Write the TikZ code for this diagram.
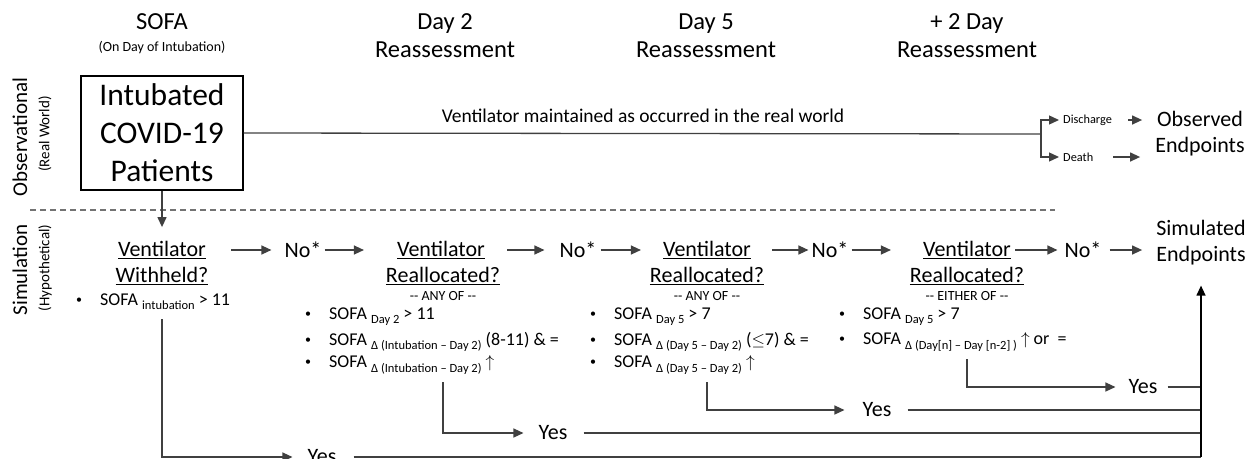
\documentclass[tikz,border=0pt]{standalone}
\usepackage{fontspec}
\setmainfont{Carlito}
\usetikzlibrary{arrows.meta}
\newcommand{\fs}[2]{\fontsize{#1}{#2}\selectfont}
\newcommand{\sofasub}[1]{\raisebox{-0.5ex}{\fs{12.5}{14}#1}}
\newcommand{\bitem}{\makebox[24pt][l]{\raisebox{0.25ex}{\fs{12}{14}\textbullet}}}

\begin{document}
\begin{tikzpicture}[x=1pt,y=-1pt,
    txt/.style={inner sep=0pt, align=center},
    head/.style={txt, font=\fs{24.5}{28}},
    flow/.style={txt, font=\fs{22}{26}},
    small/.style={txt, font=\fs{14}{16}},
    bul/.style={inner sep=0pt, anchor=west, font=\fs{18}{20}},
    side/.style={txt, rotate=90, font=\fs{21}{24}},
    sideb/.style={txt, rotate=90, font=\fs{15}{18}},
    ln/.style={line width=1.3pt, draw=black!75},
    arr/.style={ln, -{Triangle[length=10pt,width=9pt]}}]
    \useasboundingbox (0,0) rectangle (1245,458);
    % column heads
    \node[head] (sofa) at (162,22) {SOFA};
    \node[small] (sofanote) at (162,48) {(On Day of Intubation)};
    \node[head] (day2) at (445,36) {Day 2\\Reassessment};
    \node[head] (day5) at (706,36) {Day 5\\Reassessment};
    \node[head] (dayn) at (967,36) {+ 2 Day\\Reassessment};
    % row labels
    \node[side] (obslab) at (20,137) {Observational};
    \node[sideb] (obslabb) at (45,134) {(Real World)};
    \node[side] (simlab) at (20,270) {Simulation};
    \node[sideb] (simlabb) at (45,268) {(Hypothetical)};
    % observational
    \node[draw, line width=1.2pt, inner sep=0pt, minimum width=162, minimum height=114,
        align=center, font=\fs{31.5}{38}] (pat) at (162,133) {Intubated\\COVID-19\\Patients};
    \node[txt, font=\fs{19.5}{22}] (kept) at (643,116) {Ventilator maintained as occurred in the real world};
    \coordinate (split) at (1041,134);
    \node[txt, anchor=west, font=\fs{12.3}{14}] (dis) at (1063,120) {Discharge};
    \node[txt, anchor=west, font=\fs{12.3}{14}] (dea) at (1063,157) {Death};
    \node[flow] (obsend) at (1200,134) {Observed\\Endpoints};
    \draw[ln] (pat.east) -- (split);
    \draw[arr, shorten >=4] (split) |- (dis.west);
    \draw[arr, shorten >=4] (split) |- (dea.west);
    \draw[arr, shorten <=16, shorten >=13] (dis.east) -- (dis.east -| obsend.west);
    \draw[arr, shorten <=20, shorten >=15] (dea.east) -- (dea.east -| obsend.west);
    \draw[black!55, line width=1.2pt, dash pattern=on 6pt off 4pt] (30,210) -- (1055,210);
    % simulation
    \node[flow] (v0) at (162,250) {\underline{Ventilator}};
    \node[flow] (q0) at (162,276) {\underline{Withheld?}};
    \node[bul] (b0) at (76,302) {\bitem SOFA \sofasub{intubation} > 11};
    \node[flow] (no1) at (303,250) {No*};
    \node[flow] (v1) at (441,250) {\underline{Ventilator}};
    \node[flow] (q1) at (443,276) {\underline{Reallocated?}};
    \node[small] (any1) at (443,296) {-{}- ANY OF -{}-};
    \node[bul] (b1a) at (305,317) {\bitem SOFA \sofasub{Day 2} > 11};
    \node[bul] (b1b) at (305,342) {\bitem SOFA \sofasub{Δ (Intubation – Day 2)} (8-11) \& =};
    \node[bul] (b1c) at (305,365) {\bitem SOFA \sofasub{Δ (Intubation – Day 2)} $\uparrow$};
    \node[flow] (no2) at (578,250) {No*};
    \node[flow] (v2) at (707,250) {\underline{Ventilator}};
    \node[flow] (q2) at (707,276) {\underline{Reallocated?}};
    \node[small] (any2) at (707,296) {-{}- ANY OF -{}-};
    \node[bul] (b2a) at (590,317) {\bitem SOFA \sofasub{Day 5} > 7};
    \node[bul] (b2b) at (590,342) {\bitem SOFA \sofasub{Δ (Day 5 – Day 2)} ($\leq$7) \& =};
    \node[bul] (b2c) at (590,365) {\bitem SOFA \sofasub{Δ (Day 5 – Day 2)} $\uparrow$};
    \node[flow] (no3) at (830,250) {No*};
    \node[flow] (v3) at (967,250) {\underline{Ventilator}};
    \node[flow] (q3) at (967,276) {\underline{Reallocated?}};
    \node[small] (either) at (967,296) {-{}- EITHER OF -{}-};
    \node[bul] (b3a) at (839,317) {\bitem SOFA \sofasub{Day 5} > 7};
    \node[bul] (b3b) at (839,342) {\bitem SOFA \sofasub{Δ (Day[n] – Day [n-2] )} $\uparrow$ or\ \ =};
    \node[flow] (no4) at (1083,250) {No*};
    \node[flow] (simend) at (1201,243) {Simulated\\Endpoints};
    \draw[arr, shorten >=14] (pat.south) -- (v0.north);
    \draw[arr, shorten <=25, shorten >=13] (v0.east) -- (v0.east -| no1.west);
    \draw[arr, shorten <=3, shorten >=33] (no1.east) -- (no1.east -| v1.west);
    \draw[arr, shorten <=22, shorten >=15] (v1.east) -- (v1.east -| no2.west);
    \draw[arr, shorten <=4, shorten >=22] (no2.east) -- (no2.east -| v2.west);
    \draw[arr, shorten <=21, shorten >=3] (v2.east) -- (v2.east -| no3.west);
    \draw[arr, shorten <=3, shorten >=32] (no3.east) -- (no3.east -| v3.west);
    \draw[arr, shorten <=4, shorten >=7] (v3.east) -- (v3.east -| no4.west);
    \draw[arr, shorten <=8, shorten >=14] (no4.east) -- (no4.east -| simend.west);
    % yes branches
    \node[flow] (yes0) at (322,457) {Yes};
    \node[flow] (yes1) at (553,433) {Yes};
    \node[flow] (yes2) at (877,410) {Yes};
    \node[flow] (yes3) at (1143,387) {Yes};
    \draw[arr, shorten <=9, shorten >=15] (q0 |- b0.south) |- (yes0.west);
    \draw[arr, shorten <=8, shorten >=15] (q1 |- b1c.south) |- (yes1.west);
    \draw[arr, shorten <=8, shorten >=18] (q2 |- b2c.south) |- (yes2.west);
    \draw[arr, shorten <=8, shorten >=13] (q3 |- b3b.south) |- (yes3.west);
    \draw[ln, shorten <=17] (yes0.east) -- (yes0.east -| simend.south);
    \draw[ln, shorten <=16] (yes1.east) -- (yes1.east -| simend.south);
    \draw[ln, shorten <=16] (yes2.east) -- (yes2.east -| simend.south);
    \draw[ln, shorten <=10] (yes3.east) -- (yes3.east -| simend.south);
    \draw[arr, draw=black, shorten >=20] (yes0.east -| simend.south) -- (simend.south);
\end{tikzpicture}
\end{document}
